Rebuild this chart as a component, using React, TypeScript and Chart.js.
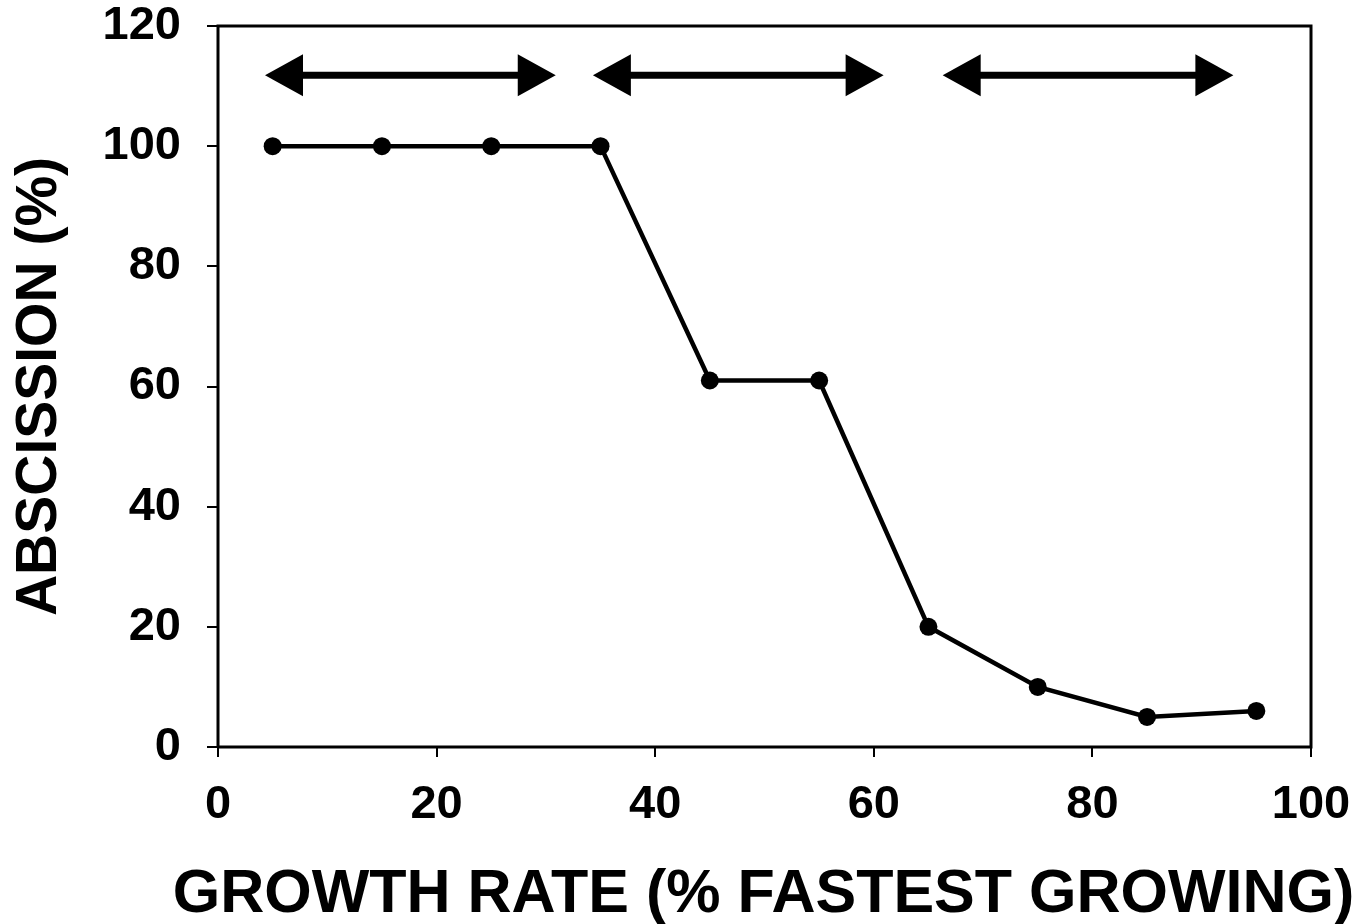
import React, { useEffect, useRef } from "react";
import { Chart, registerables } from "chart.js";

Chart.register(...registerables);

const growthRate = [5, 15, 25, 35, 45, 55, 65, 75, 85, 95];
const abscission = [100, 100, 100, 100, 61, 61, 20, 10, 5, 6];
const arrowStarts = [4.3, 34.3, 66.3];
const arrowEnds = [30.9, 60.9, 92.9];
const arrowLevel = 111.8;
const xTitle = "GROWTH RATE (% FASTEST GROWING)";
const yTitle = "ABSCISSION (%)";

const FONT = "Arial, 'Liberation Sans', Helvetica, sans-serif";

const framePlugin = {
  id: "frameAndArrows",
  afterDatasetsDraw(chart: any) {
    const { ctx, chartArea, scales } = chart;
    ctx.save();
    ctx.strokeStyle = "#000";
    ctx.lineWidth = 3;
    ctx.beginPath();
    ctx.moveTo(chartArea.left, chartArea.bottom);
    ctx.lineTo(chartArea.left, chartArea.top);
    ctx.lineTo(chartArea.right, chartArea.top);
    ctx.lineTo(chartArea.right, chartArea.bottom);
    ctx.lineTo(chartArea.left, chartArea.bottom);
    ctx.stroke();

    const headLen = 38;
    const headHalf = 21;
    ctx.fillStyle = "#000";
    const y = scales.y.getPixelForValue(arrowLevel);
    for (let i = 0; i < arrowStarts.length; i++) {
      const x1 = scales.x.getPixelForValue(arrowStarts[i]);
      const x2 = scales.x.getPixelForValue(arrowEnds[i]);
      ctx.lineWidth = 7;
      ctx.beginPath();
      ctx.moveTo(x1 + headLen - 1, y);
      ctx.lineTo(x2 - headLen + 1, y);
      ctx.stroke();
      ctx.beginPath();
      ctx.moveTo(x1, y);
      ctx.lineTo(x1 + headLen, y - headHalf);
      ctx.lineTo(x1 + headLen, y + headHalf);
      ctx.closePath();
      ctx.fill();
      ctx.beginPath();
      ctx.moveTo(x2, y);
      ctx.lineTo(x2 - headLen, y - headHalf);
      ctx.lineTo(x2 - headLen, y + headHalf);
      ctx.closePath();
      ctx.fill();
    }

    // x-axis title (drawn without Chart.js's maxWidth squeeze)
    ctx.font = `bold 61px ${FONT}`;
    ctx.textAlign = "center";
    ctx.textBaseline = "alphabetic";
    ctx.fillText(xTitle, (chartArea.left + chartArea.right) / 2 - 1, scales.x.bottom - 12);
    ctx.restore();
  },
};

export default function App() {
  const ref = useRef<HTMLCanvasElement | null>(null);
  useEffect(() => {
    if (!ref.current) return;
    const chart = new Chart(ref.current, {
      type: "scatter",
      data: {
        datasets: [
          {
            data: growthRate.map((x, i) => ({ x, y: abscission[i] })),
            showLine: true,
            borderColor: "#000",
            backgroundColor: "#000",
            borderWidth: 4.5,
            pointRadius: 9,
            pointBackgroundColor: "#000",
            pointBorderColor: "#000",
            pointBorderWidth: 0,
          },
        ],
      },
      options: {
        animation: false,
        responsive: false,
        maintainAspectRatio: false,
        layout: { padding: { top: 26, right: 50, left: 0, bottom: 0 } },
        plugins: { legend: { display: false }, tooltip: { enabled: false } },
        scales: {
          x: {
            type: "linear",
            min: 0,
            max: 100,
            afterFit(scale: any) {
              scale.height = 177;
              scale.paddingLeft = 0;
              scale.paddingRight = 0;
            },
            ticks: {
              stepSize: 20,
              color: "#000",
              padding: 20,
              font: { family: FONT, size: 47, weight: "bold" },
              maxRotation: 0,
            },
            grid: {
              drawOnChartArea: false,
              tickLength: 10,
              lineWidth: 2,
              color: "#000",
            },
            border: { display: false },
            title: { display: false },
          },
          y: {
            min: 0,
            max: 120,
            afterFit(scale: any) {
              scale.width = 218;
              scale.paddingTop = 0;
              scale.paddingBottom = 0;
            },
            ticks: {
              stepSize: 20,
              color: "#000",
              padding: 26,
              font: { family: FONT, size: 47, weight: "bold" },
            },
            grid: {
              drawOnChartArea: false,
              tickLength: 11,
              lineWidth: 2,
              color: "#000",
            },
            border: { display: false },
            title: {
              display: true,
              text: yTitle,
              color: "#000",
              font: { family: FONT, size: 57, weight: "bold", lineHeight: 1 },
              padding: { top: 11.5, bottom: 0 },
            },
          },
        },
      },
      plugins: [framePlugin],
    } as any);
    return () => chart.destroy();
  }, []);
  return (
    <div style={{ position: "fixed", left: 0, top: 0, width: 1361, height: 924, background: "#fff" }}>
      <canvas ref={ref} width={1361} height={924} style={{ width: 1361, height: 924 }} />
    </div>
  );
}
